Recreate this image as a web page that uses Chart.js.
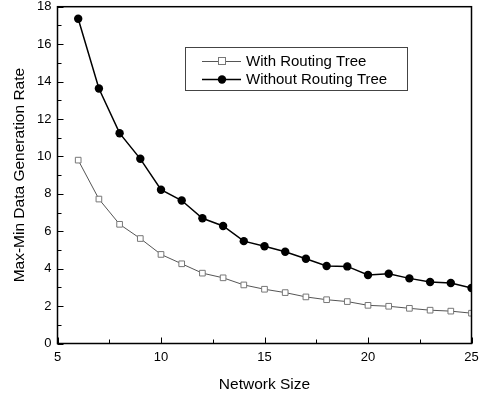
<!DOCTYPE html>
<html>
<head>
<meta charset="utf-8">
<script src="https://cdn.jsdelivr.net/npm/chart.js@4.4.1/dist/chart.umd.min.js"></script>
<style>
  html, body { margin: 0; padding: 0; background: #fff; }
  #wrap { width: 482px; height: 394px; position: relative; }
</style>
</head>
<body>
<div id="wrap"><canvas id="c" width="482" height="394"></canvas></div>
<script>
const networkSizes = [6, 7, 8, 9, 10, 11, 12, 13, 14, 15, 16, 17, 18, 19, 20, 21, 22, 23, 24, 25];
const withRoutingTree = [9.80, 7.72, 6.37, 5.61, 4.76, 4.26, 3.76, 3.51, 3.13, 2.90, 2.72, 2.49, 2.34, 2.24, 2.04, 1.99, 1.88, 1.78, 1.73, 1.62];
const withoutRoutingTree = [17.36, 13.63, 11.24, 9.87, 8.22, 7.64, 6.69, 6.28, 5.47, 5.20, 4.90, 4.53, 4.14, 4.12, 3.66, 3.73, 3.48, 3.29, 3.23, 2.97];
const xTickValues = [5, 10, 15, 20, 25];
const yTickValues = [0, 2, 4, 6, 8, 10, 12, 14, 16, 18];
const seriesLabels = ['With Routing Tree', 'Without Routing Tree'];
const xTitle = 'Network Size';
const yTitle = 'Max-Min Data Generation Rate';

const FONT = '"Liberation Sans", Arial, sans-serif';

const toPoints = (ys) => networkSizes.map((x, i) => ({ x: x, y: ys[i] }));

// Frame, inward ticks (major + minor) and boxed legend
const framePlugin = {
  id: 'frame',
  afterDraw(chart) {
    const ctx = chart.ctx;
    const a = chart.chartArea;
    const xs = chart.scales.x, ys = chart.scales.y;
    ctx.save();
    ctx.strokeStyle = '#000';
    ctx.lineWidth = 1.5;
    ctx.strokeRect(a.left, a.top, a.right - a.left, a.bottom - a.top);
    ctx.lineWidth = 1;
    ctx.beginPath();
    for (let v = 0; v <= 18; v += 1) {
      const p = Math.round(ys.getPixelForValue(v)) + 0.5;
      const len = (v % 2 === 0) ? 6 : 4;
      ctx.moveTo(a.left, p); ctx.lineTo(a.left + len, p);
    }
    for (let v = 5; v <= 25; v += 2.5) {
      const p = Math.round(xs.getPixelForValue(v)) + 0.5;
      const len = (v % 5 === 0) ? 6 : 4;
      ctx.moveTo(p, a.bottom); ctx.lineTo(p, a.bottom - len);
    }
    ctx.stroke();

    // legend box
    const bx = 185.5, by = 47.5, bw = 222, bh = 43;
    ctx.fillStyle = '#fff';
    ctx.fillRect(bx, by, bw, bh);
    ctx.strokeStyle = '#444';
    ctx.lineWidth = 1;
    ctx.strokeRect(bx, by, bw, bh);
    const rows = [61, 79];
    chart.data.datasets.forEach((ds, i) => {
      const y = rows[i];
      ctx.strokeStyle = ds.borderColor;
      ctx.lineWidth = ds.borderWidth;
      ctx.beginPath();
      ctx.moveTo(202, y + 0.5); ctx.lineTo(241, y + 0.5);
      ctx.stroke();
      if (i === 0) {
        ctx.fillStyle = '#fff';
        ctx.fillRect(218.5, y - 3.5, 7, 7);
        ctx.strokeStyle = ds.pointBorderColor;
        ctx.lineWidth = 1;
        ctx.strokeRect(218.5, y - 3.5, 7, 7);
      } else {
        ctx.fillStyle = '#000';
        ctx.beginPath();
        ctx.arc(222, y + 0.5, 4.2, 0, Math.PI * 2);
        ctx.fill();
      }
      ctx.fillStyle = '#000';
      ctx.font = '15px ' + FONT;
      ctx.textBaseline = 'middle';
      ctx.textAlign = 'left';
      ctx.fillText(ds.label, 246, y + 1);
    });
    ctx.restore();
  }
};

new Chart(document.getElementById('c'), {
  type: 'line',
  data: {
    datasets: [
      {
        label: seriesLabels[0],
        data: toPoints(withRoutingTree),
        borderColor: '#555',
        borderWidth: 1,
        pointStyle: 'rect',
        pointRadius: 4,
        pointBackgroundColor: '#fff',
        pointBorderColor: '#777',
        pointBorderWidth: 1,
        tension: 0
      },
      {
        label: seriesLabels[1],
        data: toPoints(withoutRoutingTree),
        borderColor: '#000',
        borderWidth: 1.5,
        pointStyle: 'circle',
        pointRadius: 4.2,
        pointBackgroundColor: '#000',
        pointBorderColor: '#000',
        pointBorderWidth: 0,
        tension: 0
      }
    ]
  },
  options: {
    responsive: false,
    animation: false,
    devicePixelRatio: 1,
    layout: { padding: { top: 0, right: 10.5, left: 0, bottom: 0 } },
    plugins: { legend: { display: false }, tooltip: { enabled: false } },
    scales: {
      x: {
        type: 'linear',
        min: 5, max: 25,
        afterBuildTicks: (s) => { s.ticks = xTickValues.map(v => ({ value: v })); },
        afterFit: (s) => { s.height = 50.5; s.paddingLeft = 0; s.paddingRight = 0; },
        grid: { display: false, drawTicks: false },
        border: { display: false },
        ticks: { color: '#000', font: { family: FONT, size: 13 }, padding: 6, maxRotation: 0 },
        title: { display: true, text: xTitle, color: '#000', font: { family: FONT, size: 15.5 }, padding: { top: 3, bottom: 0 } }
      },
      y: {
        min: 0, max: 18,
        afterBuildTicks: (s) => { s.ticks = yTickValues.map(v => ({ value: v })); },
        afterFit: (s) => { s.width = 57.5; s.paddingTop = 6.7; s.paddingBottom = 0; },
        grid: { display: false, drawTicks: false },
        border: { display: false },
        ticks: { color: '#000', font: { family: FONT, size: 13, lineHeight: 1.0 }, padding: 6 },
        title: { display: true, text: yTitle, color: '#000', font: { family: FONT, size: 15.5 }, padding: { top: 10.5, bottom: 0 } }
      }
    }
  },
  plugins: [framePlugin]
});
</script>
</body>
</html>
